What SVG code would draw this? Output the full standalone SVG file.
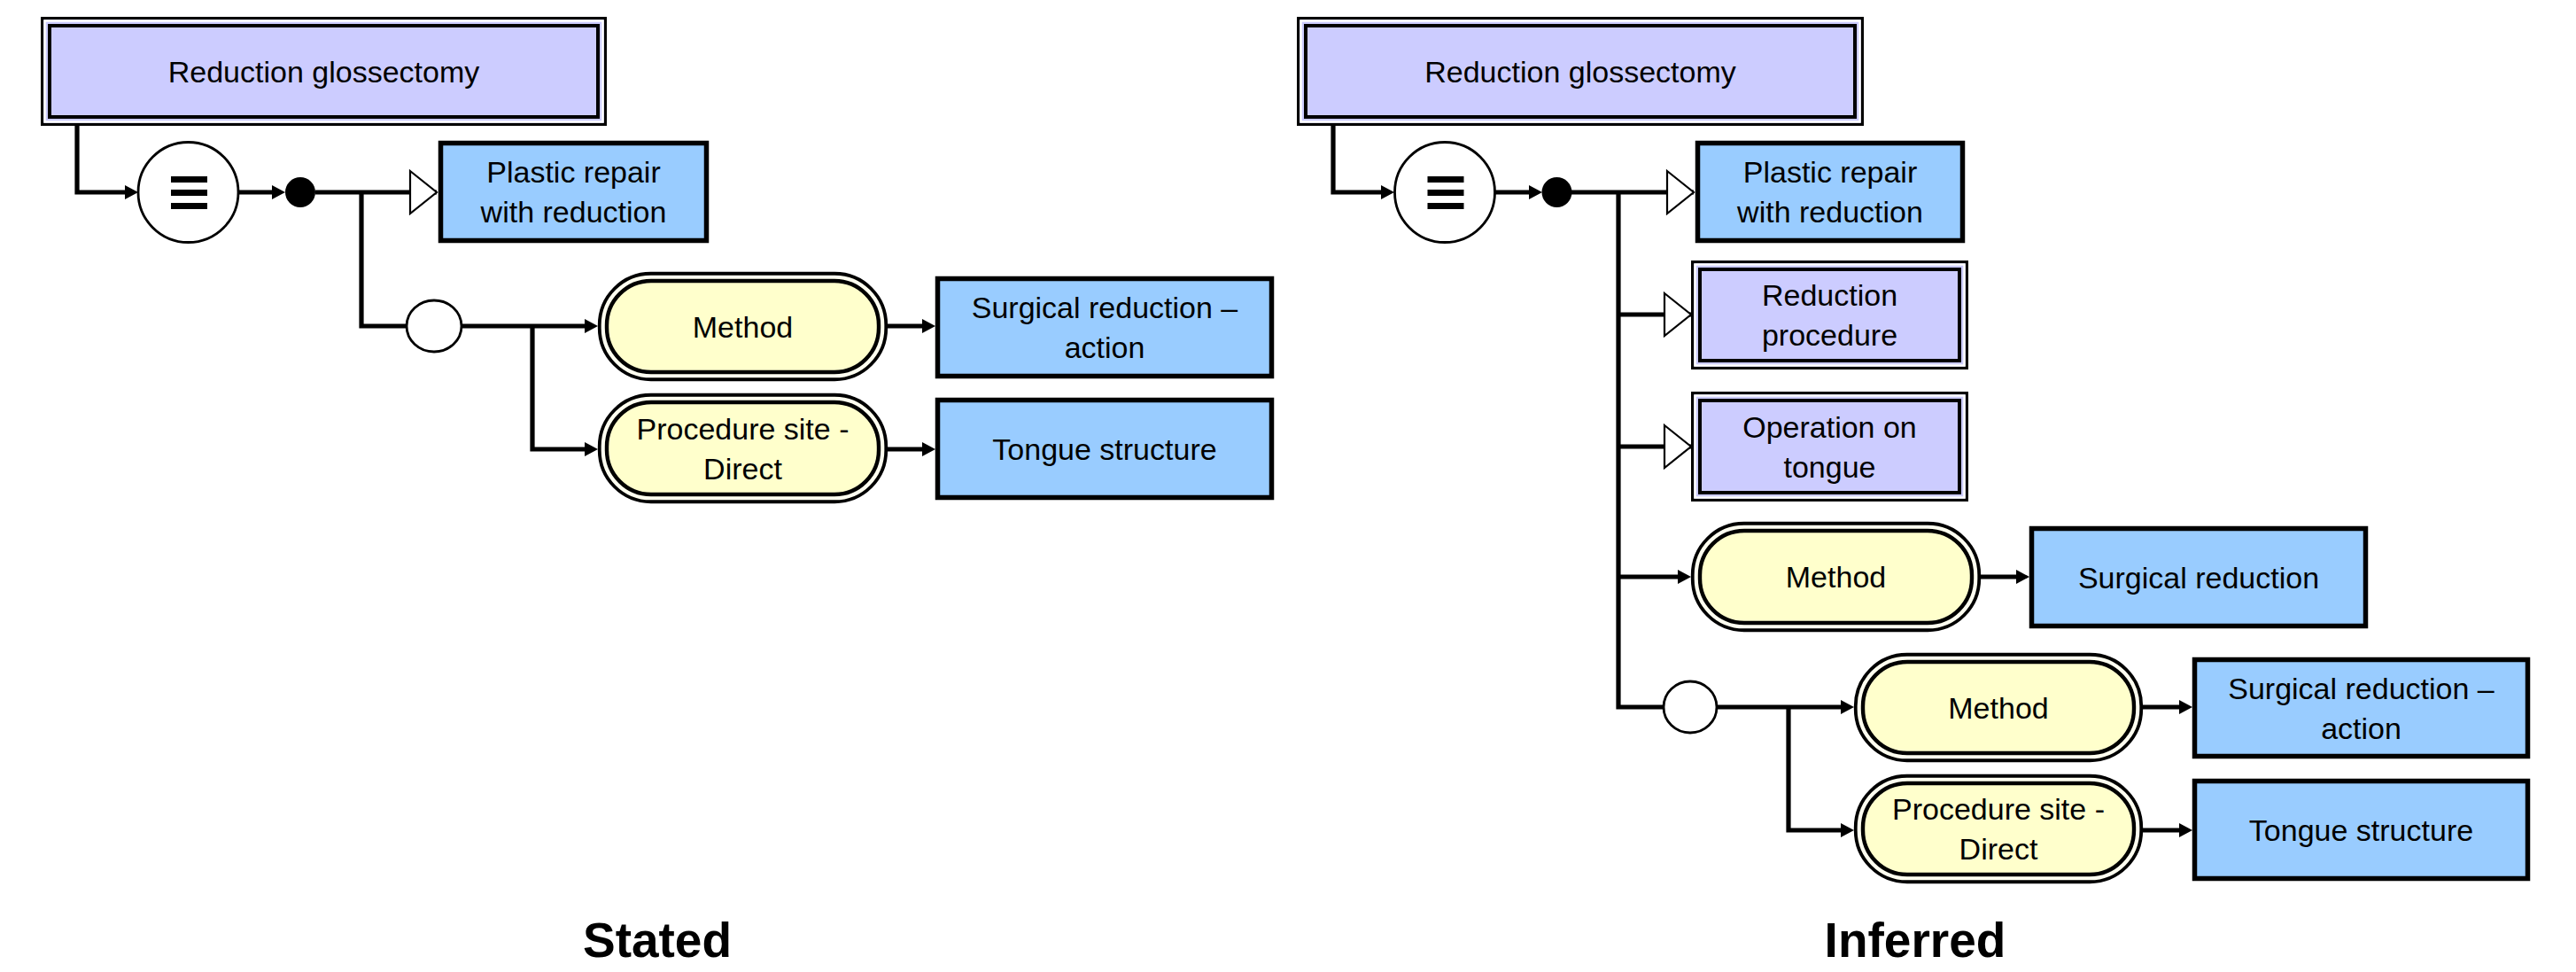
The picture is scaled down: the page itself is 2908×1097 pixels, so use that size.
<svg xmlns="http://www.w3.org/2000/svg" width="2908" height="1097" viewBox="0 0 2908 1097">
<style>
.ln{fill:none;stroke:#000;stroke-width:5.2}
.blue{fill:#99CCFF;stroke:#000;stroke-width:5.5}
.dbo{fill:#CCCCFF;stroke:#000;stroke-width:3.3}
.dbw{fill:none;stroke:#fff;stroke-width:2.4}
.dbi{fill:#CCCCFF;stroke:#000;stroke-width:4}
.po{fill:#FFFFF0;stroke:#000;stroke-width:3.8}
.pi{fill:#FFFFCC;stroke:#000;stroke-width:4.4}
.circ{fill:#fff;stroke:#000;stroke-width:2.8}
.t{font-family:"Liberation Sans",Arial,sans-serif;font-size:34px;text-anchor:middle;fill:#000}
.h{font-family:"Liberation Sans",Arial,sans-serif;font-size:55px;font-weight:bold;text-anchor:middle;fill:#000}
</style>
<defs>
<marker id="arr" viewBox="0 0 15 16" refX="5" refY="8" markerWidth="15" markerHeight="16" markerUnits="userSpaceOnUse" orient="auto"><path d="M0,0 L15,8 L0,16 Z" fill="#000"/></marker>
<marker id="hol" viewBox="0 0 34 52" refX="32" refY="26" markerWidth="34" markerHeight="52" markerUnits="userSpaceOnUse" orient="auto"><path d="M2,2 L32,26 L2,50 Z" fill="#fff" stroke="#000" stroke-width="2.2"/></marker>
</defs>
<rect width="2908" height="1097" fill="#fff"/>
<g id="connectors">
<path class="ln" d="M87,140 V217 H146" marker-end="url(#arr)"/>
<path class="ln" d="M269,217 H312" marker-end="url(#arr)"/>
<path class="ln" d="M356,217 H493" marker-end="url(#hol)"/>
<path class="ln" d="M408,217 V368 H459"/>
<path class="ln" d="M521,368 H665" marker-end="url(#arr)"/>
<path class="ln" d="M601,368 V507 H665" marker-end="url(#arr)"/>
<path class="ln" d="M1002,368 H1046" marker-end="url(#arr)"/>
<path class="ln" d="M1002,507 H1046" marker-end="url(#arr)"/>
<path class="ln" d="M1505,140 V217 H1564" marker-end="url(#arr)"/>
<path class="ln" d="M1688,217 H1731" marker-end="url(#arr)"/>
<path class="ln" d="M1774,217 H1912" marker-end="url(#hol)"/>
<path class="ln" d="M1827,217 V798 H1878"/>
<path class="ln" d="M1827,355 H1909" marker-end="url(#hol)"/>
<path class="ln" d="M1827,504 H1909" marker-end="url(#hol)"/>
<path class="ln" d="M1827,651 H1899" marker-end="url(#arr)"/>
<path class="ln" d="M2236,651 H2281" marker-end="url(#arr)"/>
<path class="ln" d="M1938,798 H2083" marker-end="url(#arr)"/>
<path class="ln" d="M2019,798 V937 H2083" marker-end="url(#arr)"/>
<path class="ln" d="M2419,798 H2465" marker-end="url(#arr)"/>
<path class="ln" d="M2419,937 H2465" marker-end="url(#arr)"/>
</g>
<!-- Stated -->
<g id="topL">
<rect class="dbo" x="47.65" y="20.65" width="635.7" height="119.7"/>
<rect class="dbw" x="50.5" y="23.5" width="630" height="114"/>
<rect class="dbi" x="56" y="29" width="619" height="103"/>
<text class="t" x="365.5" y="93">Reduction glossectomy</text>
</g>
<g id="eqL">
<circle class="circ" cx="212.5" cy="217" r="56.5"/>
<rect x="193" y="199" width="41" height="7"/>
<rect x="193" y="214" width="41" height="7"/>
<rect x="193" y="229" width="41" height="7"/>
</g>
<g id="dotL"><circle cx="339" cy="217" r="17"/></g>
<g id="plasticL">
<rect class="blue" x="497.5" y="161.5" width="300" height="110"/>
<text class="t" x="647.5" y="206">Plastic repair</text>
<text class="t" x="647.5" y="251">with reduction</text>
</g>
<g id="orL"><ellipse class="circ" cx="490" cy="368" rx="31" ry="29"/></g>
<g id="methodL">
<rect class="po" x="676.75" y="308.75" width="323.5" height="119.5" rx="58"/>
<rect class="pi" x="685" y="317" width="307" height="103" rx="50"/>
<text class="t" x="838.5" y="380.5">Method</text>
</g>
<g id="siteL">
<rect class="po" x="676.75" y="445.75" width="323.5" height="120.5" rx="58"/>
<rect class="pi" x="685" y="454" width="307" height="104" rx="50"/>
<text class="t" x="838.5" y="495.5">Procedure site -</text>
<text class="t" x="838.5" y="540.5">Direct</text>
</g>
<g id="surgActL">
<rect class="blue" x="1058.5" y="314.5" width="377" height="110"/>
<text class="t" x="1247" y="359">Surgical reduction –</text>
<text class="t" x="1247" y="404">action</text>
</g>
<g id="tongueL">
<rect class="blue" x="1058.5" y="451.5" width="377" height="110"/>
<text class="t" x="1247" y="518.5">Tongue structure</text>
</g>
<!-- Inferred -->
<g id="topR">
<rect class="dbo" x="1465.65" y="20.65" width="636.7" height="119.7"/>
<rect class="dbw" x="1468.5" y="23.5" width="631" height="114"/>
<rect class="dbi" x="1474" y="29" width="620" height="103"/>
<text class="t" x="1784" y="93">Reduction glossectomy</text>
</g>
<g id="eqR">
<circle class="circ" cx="1631" cy="217" r="56.5"/>
<rect x="1611.5" y="199" width="41" height="7"/>
<rect x="1611.5" y="214" width="41" height="7"/>
<rect x="1611.5" y="229" width="41" height="7"/>
</g>
<g id="dotR"><circle cx="1757.5" cy="217" r="17"/></g>
<g id="plasticR">
<rect class="blue" x="1916.5" y="161.5" width="299" height="110"/>
<text class="t" x="2066" y="206">Plastic repair</text>
<text class="t" x="2066" y="251">with reduction</text>
</g>
<g id="redProc">
<rect class="dbo" x="1910.65" y="295.65" width="309.7" height="119.7"/>
<rect class="dbw" x="1913.5" y="298.5" width="304" height="114"/>
<rect class="dbi" x="1919" y="304" width="293" height="103"/>
<text class="t" x="2065.5" y="345">Reduction</text>
<text class="t" x="2065.5" y="390">procedure</text>
</g>
<g id="opTongue">
<rect class="dbo" x="1910.65" y="443.65" width="309.7" height="120.7"/>
<rect class="dbw" x="1913.5" y="446.5" width="304" height="115"/>
<rect class="dbi" x="1919" y="452" width="293" height="104"/>
<text class="t" x="2065.5" y="493.5">Operation on</text>
<text class="t" x="2065.5" y="538.5">tongue</text>
</g>
<g id="methodR1">
<rect class="po" x="1910.75" y="590.75" width="323.5" height="120.5" rx="58"/>
<rect class="pi" x="1919" y="599" width="307" height="104" rx="50"/>
<text class="t" x="2072.5" y="663">Method</text>
</g>
<g id="surgR">
<rect class="blue" x="2293.5" y="596.5" width="377" height="110"/>
<text class="t" x="2482" y="663.5">Surgical reduction</text>
</g>
<g id="orR"><ellipse class="circ" cx="1908" cy="798" rx="30" ry="29"/></g>
<g id="methodR2">
<rect class="po" x="2094.75" y="738.75" width="322.5" height="119.5" rx="58"/>
<rect class="pi" x="2103" y="747" width="306" height="103" rx="50"/>
<text class="t" x="2256" y="810.5">Method</text>
</g>
<g id="siteR">
<rect class="po" x="2094.75" y="875.75" width="322.5" height="119.5" rx="58"/>
<rect class="pi" x="2103" y="884" width="306" height="103" rx="50"/>
<text class="t" x="2256" y="925">Procedure site -</text>
<text class="t" x="2256" y="970">Direct</text>
</g>
<g id="surgActR">
<rect class="blue" x="2477.5" y="744.5" width="376" height="109"/>
<text class="t" x="2665.5" y="788.5">Surgical reduction –</text>
<text class="t" x="2665.5" y="833.5">action</text>
</g>
<g id="tongueR">
<rect class="blue" x="2477.5" y="881.5" width="376" height="110"/>
<text class="t" x="2665.5" y="948.5">Tongue structure</text>
</g>
<g id="titles">
<text class="h" x="742" y="1080">Stated</text>
<text class="h" x="2162" y="1080">Inferred</text>
</g>
</svg>
